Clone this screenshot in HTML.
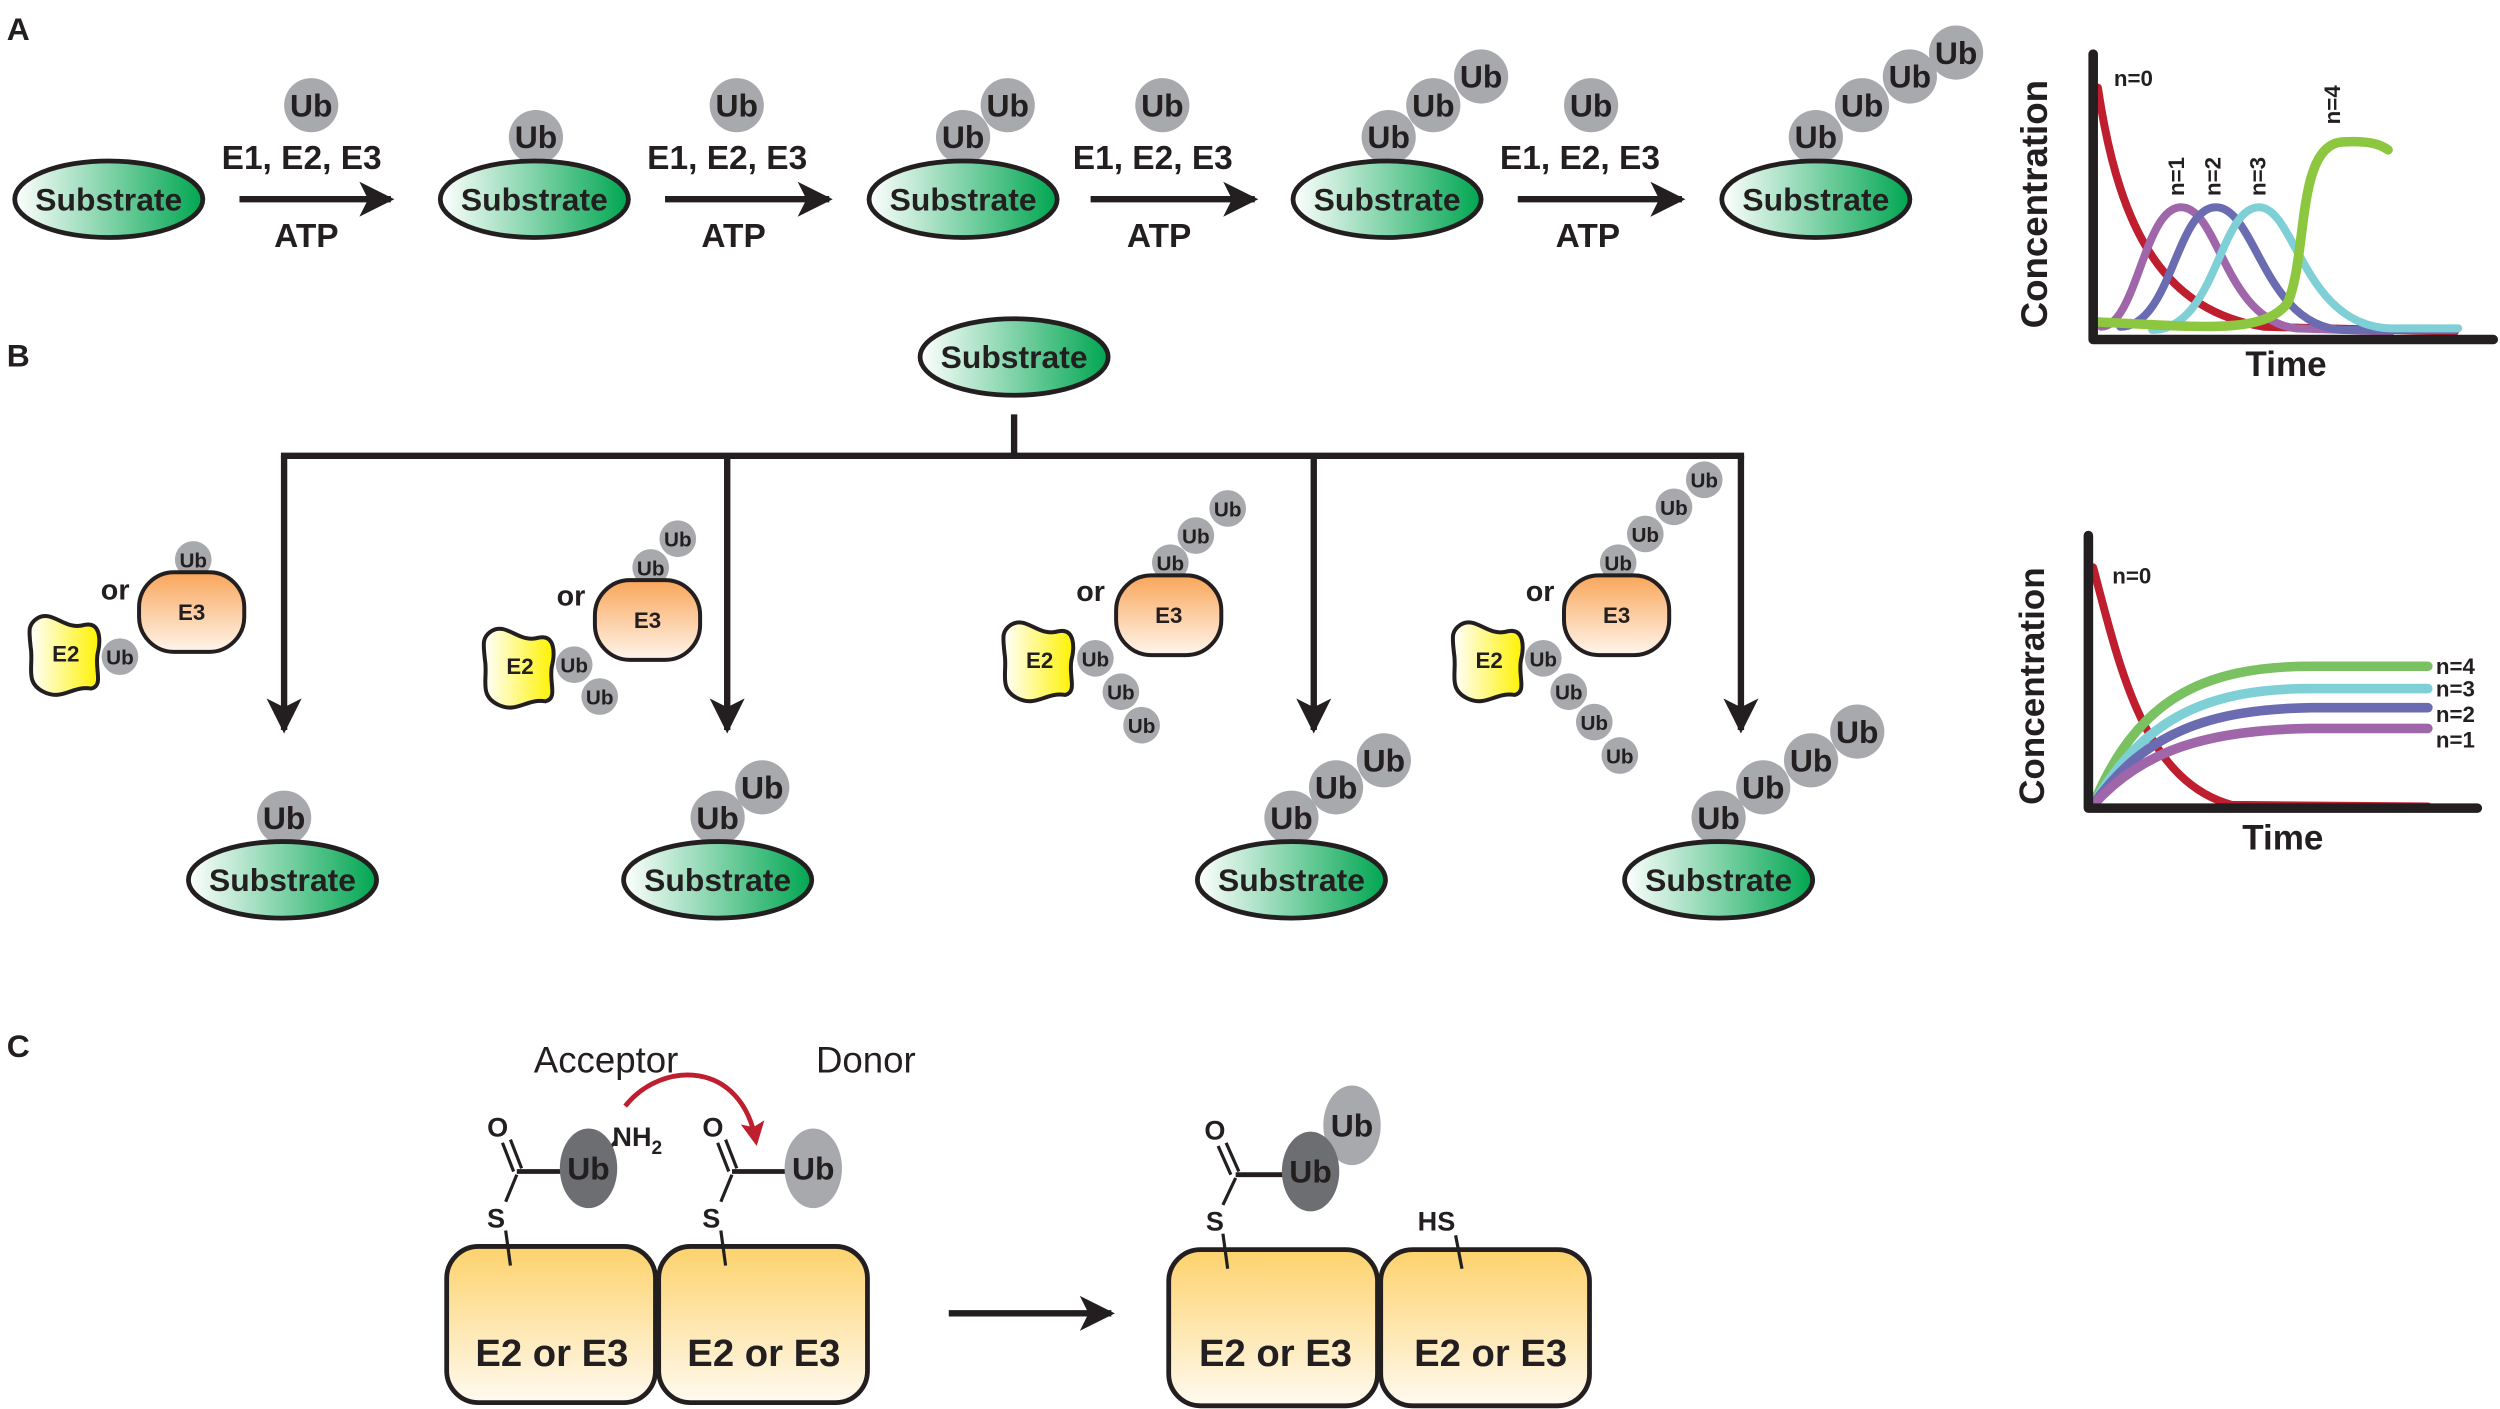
<!DOCTYPE html>
<html><head><meta charset="utf-8"><style>
html,body{margin:0;padding:0;background:#fff;}
svg{display:block;}
text{font-family:"Liberation Sans",Arial,sans-serif;font-weight:bold;fill:#231f20;}
</style></head><body>
<svg width="2500" height="1409" viewBox="0 0 1568 884" xmlns="http://www.w3.org/2000/svg">
<defs>
<linearGradient id="gS" x1="0" x2="1" y1="0" y2="0"><stop offset="0" stop-color="#ffffff"/><stop offset="1" stop-color="#00a651"/></linearGradient>
<linearGradient id="gE2" x1="0" x2="1"><stop offset="0" stop-color="#ffffff"/><stop offset="1" stop-color="#fff200"/></linearGradient>
<linearGradient id="gE3" x1="0" x2="0" y1="0" y2="1"><stop offset="0" stop-color="#f9a65a"/><stop offset="1" stop-color="#fff5ec"/></linearGradient>
<linearGradient id="gB" x1="0" x2="0" y1="0" y2="1"><stop offset="0" stop-color="#fdd26c"/><stop offset="1" stop-color="#fffaf0"/></linearGradient>
<marker id="ah" viewBox="0 0 10 10" refX="9" refY="5" markerWidth="5.5" markerHeight="5.5" orient="auto"><path d="M0,0 L10,5 L0,10 L2.5,5 z" fill="#231f20"/></marker>
<marker id="ahr" viewBox="0 0 10 10" refX="8" refY="5" markerWidth="5" markerHeight="5" orient="auto"><path d="M0,0 L10,5 L0,10 L2,5 z" fill="#be1e2d"/></marker>
<g id="sub"><ellipse cx="0" cy="0" rx="59" ry="24" fill="url(#gS)" stroke="#231f20" stroke-width="3"/><text x="0" y="7" font-size="20" text-anchor="middle">Substrate</text></g>
<g id="ub"><circle r="17" fill="#a7a9ac"/><text y="7" font-size="20" text-anchor="middle">Ub</text></g>
<g id="ubs"><circle r="11.5" fill="#a7a9ac"/><text y="5" font-size="13" text-anchor="middle">Ub</text></g>
<g id="e3"><rect x="-33" y="-25" width="66" height="50" rx="22" fill="url(#gE3)" stroke="#231f20" stroke-width="2.5"/><text y="5" font-size="14" text-anchor="middle">E3</text></g>
<g id="e2"><path d="M-22,-22 C-12,-28 -5,-14 8,-18 C18,-20 18,-8 16,0 C14,10 20,20 12,22 C0,20 -6,30 -18,24 C-30,18 -24,8 -26,-4 C-27,-14 -28,-18 -22,-22 z" fill="url(#gE2)" stroke="#231f20" stroke-width="2.5"/><text x="-4" y="5" font-size="14" text-anchor="middle">E2</text></g>
</defs>

<!-- Panel A -->
<text x="4" y="25" font-size="20">A</text>
<use href="#sub" x="68" y="125"/>
<use href="#ub" x="336" y="86"/><use href="#sub" x="335" y="125"/>
<use href="#ub" x="632" y="66"/><use href="#ub" x="604" y="86"/><use href="#sub" x="604" y="125"/>
<use href="#ub" x="929" y="48"/><use href="#ub" x="899" y="66"/><use href="#ub" x="871" y="86"/><use href="#sub" x="870" y="125"/>
<use href="#ub" x="1227" y="33"/><use href="#ub" x="1198" y="48"/><use href="#ub" x="1168" y="66"/><use href="#ub" x="1139" y="86"/><use href="#sub" x="1139" y="125"/>
<g>
<use href="#ub" x="195" y="66"/><text x="189" y="106" font-size="21" text-anchor="middle">E1, E2, E3</text><line x1="150" y1="125" x2="245" y2="125" stroke="#231f20" stroke-width="4" marker-end="url(#ah)"/><text x="192" y="155" font-size="21" text-anchor="middle">ATP</text>
<use href="#ub" x="462" y="66"/><text x="456" y="106" font-size="21" text-anchor="middle">E1, E2, E3</text><line x1="417" y1="125" x2="520" y2="125" stroke="#231f20" stroke-width="4" marker-end="url(#ah)"/><text x="460" y="155" font-size="21" text-anchor="middle">ATP</text>
<use href="#ub" x="729" y="66"/><text x="723" y="106" font-size="21" text-anchor="middle">E1, E2, E3</text><line x1="684" y1="125" x2="787" y2="125" stroke="#231f20" stroke-width="4" marker-end="url(#ah)"/><text x="727" y="155" font-size="21" text-anchor="middle">ATP</text>
<use href="#ub" x="998" y="66"/><text x="991" y="106" font-size="21" text-anchor="middle">E1, E2, E3</text><line x1="952" y1="125" x2="1055" y2="125" stroke="#231f20" stroke-width="4" marker-end="url(#ah)"/><text x="996" y="155" font-size="21" text-anchor="middle">ATP</text>
</g>

<!-- Graph A -->
<g fill="none" stroke-linecap="round" stroke-width="5">
<path d="M1316,55 C1330,150 1360,195 1420,205 L1540,208" stroke="#be1e2d"/>
<path d="M1318,205 C1340,205 1345,130 1368,130 C1392,130 1395,200 1440,206 L1500,208" stroke="#a066aa"/>
<path d="M1330,205 C1362,205 1365,130 1390,130 C1415,130 1420,205 1470,207 L1540,207" stroke="#6a6bb1"/>
<path d="M1350,207 C1390,207 1392,130 1417,130 C1440,130 1445,205 1500,206 L1542,206" stroke="#7fd0d6"/>
<path d="M1316,202 C1380,205 1420,210 1435,190 C1448,160 1440,90 1470,89 C1490,88 1495,92 1498,94" stroke="#8dc63f" stroke-width="6"/>
</g>
<path d="M1313,34 L1313,213 L1564,213" fill="none" stroke="#231f20" stroke-width="6" stroke-linecap="round" stroke-linejoin="round"/>
<text x="1326" y="54" font-size="14">n=0</text>
<text transform="translate(1370,123) rotate(-90)" font-size="14">n=1</text>
<text transform="translate(1393,123) rotate(-90)" font-size="14">n=2</text>
<text transform="translate(1421,123) rotate(-90)" font-size="14">n=3</text>
<text transform="translate(1468,78) rotate(-90)" font-size="14">n=4</text>
<text transform="translate(1284,206) rotate(-90)" font-size="23">Concentration</text>
<text x="1434" y="236" font-size="22" text-anchor="middle">Time</text>

<!-- Panel B -->
<text x="4" y="230" font-size="20">B</text>
<use href="#sub" x="636" y="224"/>
<g stroke="#231f20" stroke-width="4" fill="none">
<line x1="636" y1="260" x2="636" y2="286"/>
<line x1="176" y1="286" x2="1094" y2="286"/>
<line x1="178" y1="286" x2="178" y2="458" marker-end="url(#ah)"/>
<line x1="456" y1="286" x2="456" y2="458" marker-end="url(#ah)"/>
<line x1="824" y1="286" x2="824" y2="458" marker-end="url(#ah)"/>
<line x1="1092" y1="286" x2="1092" y2="458" marker-end="url(#ah)"/>
</g>
<use href="#ub" x="178" y="513"/><use href="#sub" x="177" y="552"/>
<use href="#ub" x="478" y="494"/><use href="#ub" x="450" y="513"/><use href="#sub" x="450" y="552"/>
<use href="#ub" x="868" y="477"/><use href="#ub" x="838" y="494"/><use href="#ub" x="810" y="513"/><use href="#sub" x="810" y="552"/>
<use href="#ub" x="1165" y="459"/><use href="#ub" x="1136" y="477"/><use href="#ub" x="1106" y="494"/><use href="#ub" x="1078" y="513"/><use href="#sub" x="1078" y="552"/>

<text x="72" y="376" font-size="18" text-anchor="middle">or</text>
<use href="#ubs" x="121" y="351"/><use href="#e3" x="120" y="384"/>
<use href="#e2" x="45" y="410"/><use href="#ubs" x="75" y="412"/>

<text x="358" y="380" font-size="18" text-anchor="middle">or</text>
<use href="#ubs" x="425" y="338"/><use href="#ubs" x="408" y="356"/><use href="#e3" x="406" y="389"/>
<use href="#e2" x="330" y="418"/><use href="#ubs" x="376" y="437"/><use href="#ubs" x="360" y="417"/>

<text x="684" y="377" font-size="18" text-anchor="middle">or</text>
<use href="#ubs" x="770" y="319"/><use href="#ubs" x="750" y="336"/><use href="#ubs" x="734" y="353"/><use href="#e3" x="733" y="386"/>
<use href="#e2" x="656" y="414"/><use href="#ubs" x="716" y="455"/><use href="#ubs" x="703" y="434"/><use href="#ubs" x="687" y="413"/>

<text x="966" y="377" font-size="18" text-anchor="middle">or</text>
<use href="#ubs" x="1069" y="301"/><use href="#ubs" x="1050" y="318"/><use href="#ubs" x="1032" y="335"/><use href="#ubs" x="1015" y="353"/><use href="#e3" x="1014" y="386"/>
<use href="#e2" x="938" y="414"/><use href="#ubs" x="1016" y="474"/><use href="#ubs" x="1000" y="453"/><use href="#ubs" x="984" y="434"/><use href="#ubs" x="968" y="413"/>

<!-- Graph B -->
<g fill="none" stroke-linecap="round" stroke-width="5">
<path d="M1313,356 C1330,420 1345,490 1400,505 L1523,506" stroke="#be1e2d"/>
<path d="M1313,505 C1340,440 1380,418 1450,418 L1523,418" stroke="#7ac161" stroke-width="6"/>
<path d="M1313,505 C1345,450 1385,432 1450,432 L1523,432" stroke="#7fd0d6" stroke-width="6"/>
<path d="M1313,505 C1345,460 1385,445 1450,444 L1523,444" stroke="#6a6bb1" stroke-width="6"/>
<path d="M1313,505 C1345,470 1385,458 1450,457 L1523,457" stroke="#a066aa" stroke-width="6"/>
</g>
<path d="M1310,336 L1310,507 L1554,507" fill="none" stroke="#231f20" stroke-width="6" stroke-linecap="round" stroke-linejoin="round"/>
<text x="1325" y="366" font-size="14">n=0</text>
<text x="1528" y="423" font-size="14">n=4</text>
<text x="1528" y="437" font-size="14">n=3</text>
<text x="1528" y="453" font-size="14">n=2</text>
<text x="1528" y="469" font-size="14">n=1</text>
<text transform="translate(1282,505) rotate(-90)" font-size="22">Concentration</text>
<text x="1432" y="533" font-size="22" text-anchor="middle">Time</text>

<!-- Panel C -->
<text x="4" y="663" font-size="20">C</text>
<text x="380" y="673" font-size="23" text-anchor="middle" style="font-weight:normal">Acceptor</text>
<text x="543" y="673" font-size="23" text-anchor="middle" style="font-weight:normal">Donor</text>
<path d="M392,694 C415,665 465,665 474,716" fill="none" stroke="#be1e2d" stroke-width="3" marker-end="url(#ahr)"/>

<rect x="280" y="782" width="131" height="98" rx="20" fill="url(#gB)" stroke="#231f20" stroke-width="3"/>
<rect x="413" y="782" width="131" height="98" rx="20" fill="url(#gB)" stroke="#231f20" stroke-width="3"/>
<rect x="733" y="784" width="131" height="98" rx="20" fill="url(#gB)" stroke="#231f20" stroke-width="3"/>
<rect x="866" y="784" width="131" height="98" rx="20" fill="url(#gB)" stroke="#231f20" stroke-width="3"/>
<text x="346" y="857" font-size="24" text-anchor="middle">E2 or E3</text>
<text x="479" y="857" font-size="24" text-anchor="middle">E2 or E3</text>
<text x="800" y="857" font-size="24" text-anchor="middle">E2 or E3</text>
<text x="935" y="857" font-size="24" text-anchor="middle">E2 or E3</text>
<line x1="595" y1="824" x2="697" y2="824" stroke="#231f20" stroke-width="4" marker-end="url(#ah)"/>

<g stroke="#231f20" stroke-width="2" fill="none">
<line x1="317" y1="772" x2="320" y2="794"/><line x1="317" y1="754" x2="324" y2="737"/>
<line x1="324" y1="735" x2="352" y2="735" stroke-width="3"/>
<line x1="315" y1="717" x2="322" y2="735"/><line x1="320" y1="715" x2="327" y2="733"/>
<line x1="381" y1="722" x2="386" y2="716"/>
<line x1="452" y1="772" x2="455" y2="794"/><line x1="452" y1="754" x2="459" y2="737"/>
<line x1="459" y1="735" x2="493" y2="735" stroke-width="3"/>
<line x1="450" y1="717" x2="457" y2="735"/><line x1="455" y1="715" x2="462" y2="733"/>
<line x1="767" y1="774" x2="770" y2="796"/><line x1="767" y1="756" x2="775" y2="739"/>
<line x1="775" y1="737" x2="805" y2="737" stroke-width="3"/>
<line x1="764" y1="719" x2="772" y2="737"/><line x1="769" y1="717" x2="777" y2="735"/>
<line x1="913" y1="775" x2="917" y2="796"/>
</g>
<text x="312" y="713" font-size="17" text-anchor="middle">O</text>
<text x="311" y="770" font-size="17" text-anchor="middle">S</text>
<text x="384" y="719" font-size="17">NH<tspan font-size="12" dy="5">2</tspan></text>
<text x="447" y="713" font-size="17" text-anchor="middle">O</text>
<text x="446" y="770" font-size="17" text-anchor="middle">S</text>
<text x="762" y="715" font-size="17" text-anchor="middle">O</text>
<text x="762" y="772" font-size="17" text-anchor="middle">S</text>
<text x="901" y="772" font-size="17" text-anchor="middle">HS</text>
<ellipse cx="369" cy="733" rx="18" ry="25" fill="#6d6e71"/><text x="369" y="740" font-size="20" text-anchor="middle">Ub</text>
<ellipse cx="510" cy="733" rx="18" ry="25" fill="#a7a9ac"/><text x="510" y="740" font-size="20" text-anchor="middle">Ub</text>
<ellipse cx="848" cy="706" rx="18" ry="25" fill="#a7a9ac"/><text x="848" y="713" font-size="20" text-anchor="middle">Ub</text>
<ellipse cx="822" cy="735" rx="18" ry="25" fill="#6d6e71"/><text x="822" y="742" font-size="20" text-anchor="middle">Ub</text>
</svg>
</body></html>
